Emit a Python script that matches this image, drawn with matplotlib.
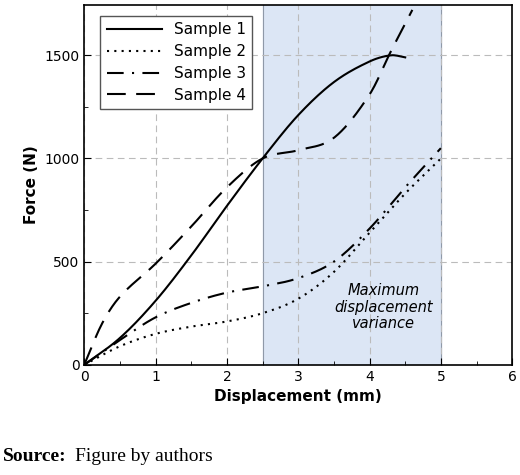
import matplotlib
matplotlib.use("Agg")
import matplotlib.pyplot as plt
import numpy as np

x1 = [0, 0.5, 1, 1.5, 2, 2.5, 3, 3.5, 4, 4.3, 4.5]
y1 = [0, 130, 310, 530, 770, 1000, 1210, 1370, 1470, 1500, 1490]
x2 = [0, 0.5, 1, 1.5, 2, 2.5, 3, 3.5, 4, 4.5, 5]
y2 = [0, 90, 150, 185, 210, 250, 320, 450, 640, 830, 1000]
x3 = [0, 0.5, 1, 1.5, 2, 2.5, 3, 3.5, 4, 4.5, 5]
y3 = [0, 120, 230, 300, 350, 380, 420, 500, 660, 860, 1050]
x4 = [0, 0.25, 0.5, 1, 1.5, 2, 2.5, 3, 3.5, 4, 4.3, 4.6]
y4 = [0, 200, 330, 490, 670, 860, 1000, 1040, 1100, 1310, 1520, 1720]
labels = ["Sample 1", "Sample 2", "Sample 3", "Sample 4"]

def smooth(x, y):
    xs = np.linspace(x[0], x[-1], 200)
    x = np.array(x, float); y = np.array(y, float)
    out = []
    for xv in xs:
        i = min(np.searchsorted(x, xv, side='right') - 1, len(x) - 2)
        i0, i3 = max(i - 1, 0), min(i + 2, len(x) - 1)
        t = (xv - x[i]) / (x[i + 1] - x[i])
        p0, p1, p2, p3 = y[i0], y[i], y[i + 1], y[i3]
        m1 = (p2 - p0) / (x[i + 1] - x[i0]) * (x[i + 1] - x[i])
        m2 = (p3 - p1) / (x[i3] - x[i]) * (x[i + 1] - x[i])
        h00 = 2*t**3 - 3*t**2 + 1; h10 = t**3 - 2*t**2 + t
        h01 = -2*t**3 + 3*t**2; h11 = t**3 - t**2
        out.append(h00*p1 + h10*m1 + h01*p2 + h11*m2)
    return xs, np.array(out)

fig = plt.figure(figsize=(5.2, 4.75), dpi=100)
ax = fig.add_axes([0.162, 0.232, 0.823, 0.758])
ax.axvspan(2.5, 5, color="#dce6f5", zorder=0)
ax.axvline(2.5, color="#8f99a8", lw=0.8, zorder=0.5)
ax.axvline(5, color="#8f99a8", lw=0.8, zorder=0.5)
ax.grid(True, ls=(0, (6, 4)), color="#bbbbbb", lw=0.8)
ax.set_axisbelow(True)

styles = ["-", (0, (1, 2.5)), (0, (8, 4, 1, 4)), (0, (9, 5))]
for (x, y), ls, lab in zip([(x1, y1), (x2, y2), (x3, y3), (x4, y4)], styles, labels):
    xs, ys = smooth(x, y)
    ax.plot(xs, ys, color="black", ls=ls, lw=1.5, label=lab)

ax.set_xlim(0, 6)
ax.set_ylim(0, 1745)
ax.set_xticks(range(7))
ax.set_yticks([0, 500, 1000, 1500])
ax.set_xticks(np.arange(0.5, 6, 1), minor=True)
ax.set_yticks([250, 750, 1250], minor=True)
ax.tick_params(direction="in", which="both", top=False, right=False, labelsize=10)
ax.tick_params(which="major", length=5)
ax.tick_params(which="minor", length=3)
for s in ax.spines.values():
    s.set_linewidth(1.2)
ax.set_xlabel("Displacement (mm)", fontweight="bold", fontsize=11)
ax.set_ylabel("Force (N)", fontweight="bold", fontsize=11)
ax.text(4.2, 280, "Maximum\ndisplacement\nvariance", style="italic", ha="center", va="center", fontsize=10.5, linespacing=1.1)
ax.legend(loc="upper left", fontsize=11, fancybox=False, edgecolor="#555555", framealpha=1,
          handlelength=3.6, borderpad=0.4, labelspacing=0.45, bbox_to_anchor=(0.02, 0.99))
t = fig.text(0.005, 0.03, "Source:", fontsize=14, family="Liberation Serif", fontweight="bold")
fig.text(0.145, 0.03, "Figure by authors", fontsize=14, family="Liberation Serif")
fig.savefig("out.png")
